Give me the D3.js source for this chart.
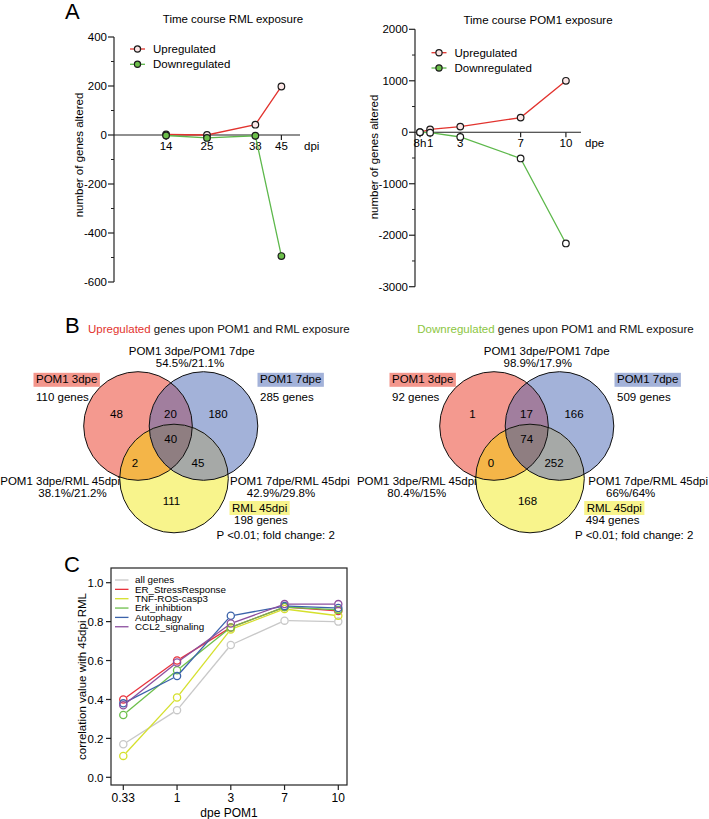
<!DOCTYPE html>
<html><head><meta charset="utf-8">
<script src="https://cdn.jsdelivr.net/npm/d3@7"></script>
<style>
html,body{margin:0;padding:0;background:#fff;}
svg{display:block;font-family:"Liberation Sans",Arial,Helvetica,sans-serif;}
</style></head>
<body>
<svg id="fig" width="709" height="819"></svg>
<script>
// ---------- DATA ----------
const rmlDays = [14, 25, 38, 45];
const rmlUp = [2, 0, 42, 198];
const rmlDown = [-2, -12, -3, -494];

const pomDays = [0.33, 1, 3, 7, 10];
const pomDayLabels = ["8h", "1", "3", "7", "10"];
const pomUp = [0, 55, 110, 285, 1000];
const pomDown = [0, -8, -92, -509, -2160];

const legendNames = ["Upregulated", "Downregulated"];

const vennSets = ["POM1 3dpe", "POM1 7dpe", "RML 45dpi"];
const pairNames = ["POM1 3dpe/POM1 7dpe", "POM1 3dpe/RML 45dpi", "POM1 7dpe/RML 45dpi"];
// region order: A only, AB, B only, ABC, AC, BC, C only
const upTotals = [110, 285, 198];
const upRegions = [48, 20, 180, 40, 2, 45, 111];
const upPairPct = ["54.5%/21.1%", "38.1%/21.2%", "42.9%/29.8%"];
const downTotals = [92, 509, 494];
const downRegions = [1, 17, 166, 74, 0, 252, 168];
const downPairPct = ["98.9%/17.9%", "80.4%/15%", "66%/64%"];

const corrX = ["0.33", "1", "3", "7", "10"];
const corrNames = ["all genes", "ER_StressResponse", "TNF-ROS-casp3", "Erk_inhibtion", "Autophagy", "CCL2_signaling"];
const corrAll   = [0.17, 0.345, 0.68, 0.805, 0.80];
const corrER    = [0.40, 0.60, 0.77, 0.875, 0.855];
const corrTNF   = [0.11, 0.41, 0.76, 0.865, 0.83];
const corrErk   = [0.32, 0.55, 0.77, 0.875, 0.86];
const corrAuto  = [0.38, 0.52, 0.83, 0.88, 0.87];
const corrCCL2  = [0.37, 0.59, 0.79, 0.89, 0.89];
const corrTicks = [0, 0.2, 0.4, 0.6, 0.8, 1.0];

// ---------- DRAW ----------
const svg = d3.select("#fig");
const FS = 11.5;

function panelLetter(t, x, y) {
  svg.append("text").attr("x", x).attr("y", y).attr("font-size", 22).text(t);
}
panelLetter("A", 65, 19);
panelLetter("B", 65, 333);
panelLetter("C", 64, 572);

function timeCourse(o) {
  const g = svg.append("g");
  const x = d3.scaleLinear().domain(o.xDomain).range(o.xRange);
  const y = d3.scaleLinear().domain(o.yDomain).range(o.yRange);
  const x0 = x(0), y0 = y(0);
  g.append("line").attr("x1", x0).attr("x2", x0).attr("y1", y(o.yDomain[0])).attr("y2", y(o.yDomain[1]))
    .attr("stroke", "#222").attr("stroke-width", 1.2);
  const majors = d3.range(o.yDomain[0], o.yDomain[1] + 1e-9, o.major);
  const minors = d3.range(o.yDomain[0], o.yDomain[1] + 1e-9, o.minor).filter(v => !majors.includes(v));
  g.selectAll(null).data(minors).join("line").attr("x1", x0 - 3).attr("x2", x0).attr("y1", d => y(d)).attr("y2", d => y(d))
    .attr("stroke", "#222").attr("stroke-width", 1);
  g.selectAll(null).data(majors).join("line").attr("x1", x0 - 6).attr("x2", x0).attr("y1", d => y(d)).attr("y2", d => y(d))
    .attr("stroke", "#222").attr("stroke-width", 1.2);
  g.selectAll(null).data(majors).join("text").attr("x", x0 - 7).attr("y", d => y(d) + 4)
    .attr("text-anchor", "end").attr("font-size", FS).text(d => String(d));
  g.append("line").attr("x1", x0).attr("x2", o.xRange[1]).attr("y1", y0).attr("y2", y0)
    .attr("stroke", "#222").attr("stroke-width", 1.2);
  g.selectAll(null).data(o.days).join("line").attr("x1", d => x(d)).attr("x2", d => x(d)).attr("y1", y0).attr("y2", y0 + 5)
    .attr("stroke", "#222").attr("stroke-width", 1.2);
  g.selectAll(null).data(o.days).join("text").attr("x", d => x(d)).attr("y", y0 + 15)
    .attr("text-anchor", "middle").attr("font-size", FS).text((d, i) => o.labels[i]);
  g.append("text").attr("x", o.xRange[1] + 4).attr("y", y0 + 15).attr("font-size", FS).text(o.unit);
  g.append("text").attr("x", o.titleX).attr("y", o.titleY).attr("text-anchor", "middle").attr("font-size", FS).text(o.title);
  g.append("text").attr("transform", `translate(${o.ylabX},${o.ylabY}) rotate(-90)`).attr("text-anchor", "middle")
    .attr("font-size", FS).text("number of genes altered");
  const line = d3.line().x((d, i) => x(o.days[i])).y(d => y(d));
  g.append("path").attr("d", line(o.up)).attr("fill", "none").attr("stroke", "#e2332e").attr("stroke-width", 1.3);
  g.append("path").attr("d", line(o.down)).attr("fill", "none").attr("stroke", "#5db84b").attr("stroke-width", 1.3);
  g.selectAll(null).data(o.up).join("circle").attr("cx", (d, i) => x(o.days[i])).attr("cy", d => y(d)).attr("r", 3.3)
    .attr("fill", "#fbe6e6").attr("stroke", "#1a1a1a").attr("stroke-width", 1.2);
  g.selectAll(null).data(o.down).join("circle").attr("cx", (d, i) => x(o.days[i])).attr("cy", d => y(d)).attr("r", 3.3)
    .attr("fill", o.downFill).attr("stroke", "#1a1a1a").attr("stroke-width", 1.2);
  const cols = ["#e2332e", "#5db84b"];
  const fills = ["#fbe6e6", "#6cbf4a"];
  legendNames.forEach((n, i) => {
    const ly = o.legY + i * 15.3;
    g.append("line").attr("x1", o.legX).attr("x2", o.legX + 15).attr("y1", ly).attr("y2", ly).attr("stroke", cols[i]).attr("stroke-width", 1.3);
    g.append("circle").attr("cx", o.legX + 7.5).attr("cy", ly).attr("r", 3.1).attr("fill", fills[i]).attr("stroke", "#1a1a1a").attr("stroke-width", 1.2);
    g.append("text").attr("x", o.legX + 23).attr("y", ly + 4).attr("font-size", FS).text(n);
  });
}

timeCourse({
  xDomain: [0, 50], xRange: [114, 300], yDomain: [-600, 400], yRange: [282, 37], major: 200, minor: 100,
  days: rmlDays, labels: rmlDays.map(String), up: rmlUp, down: rmlDown, unit: "dpi",
  title: "Time course RML exposure", titleX: 233, titleY: 23, ylabX: 83, ylabY: 155,
  legX: 130, legY: 49, downFill: "#6cbf4a"
});
timeCourse({
  xDomain: [0, 11], xRange: [415, 581], yDomain: [-3000, 2000], yRange: [286.7, 29.3], major: 1000, minor: 500,
  days: pomDays, labels: pomDayLabels, up: pomUp, down: pomDown, unit: "dpe",
  title: "Time course POM1 exposure", titleX: 538, titleY: 23.5, ylabX: 377.5, ylabY: 157,
  legX: 431.5, legY: 52.7, downFill: "#ffffff"
});

// ---------- VENN ----------
const vennCols = { A: "#f4998f", B: "#a3b2d9", C: "#f8f48c", AB: "#a17e9e", AC: "#f4b548", BC: "#a6a9a7", ABC: "#8f7e81" };
let clipId = 0;
function venn(dx, totals, regions, pct, titleWord, titleColor, lay) {
  const g = svg.append("g").attr("transform", `translate(${dx},0)`);
  const r = 54.3;
  const cs = [[138, 426], [203.5, 426], [174, 478.5]];
  const ids = cs.map(c => {
    const id = "vc" + (clipId++);
    g.append("clipPath").attr("id", id).append("circle").attr("cx", c[0]).attr("cy", c[1]).attr("r", r);
    return id;
  });
  const base = [vennCols.A, vennCols.B, vennCols.C];
  cs.forEach((c, i) => g.append("circle").attr("cx", c[0]).attr("cy", c[1]).attr("r", r).attr("fill", base[i]));
  const pair = (i, j, col) => g.append("g").attr("clip-path", `url(#${ids[i]})`)
    .append("circle").attr("cx", cs[j][0]).attr("cy", cs[j][1]).attr("r", r).attr("fill", col);
  pair(0, 1, vennCols.AB); pair(0, 2, vennCols.AC); pair(1, 2, vennCols.BC);
  g.append("g").attr("clip-path", `url(#${ids[0]})`).append("g").attr("clip-path", `url(#${ids[1]})`)
    .append("circle").attr("cx", cs[2][0]).attr("cy", cs[2][1]).attr("r", r).attr("fill", vennCols.ABC);
  cs.forEach(c => g.append("circle").attr("cx", c[0]).attr("cy", c[1]).attr("r", r).attr("fill", "none").attr("stroke", "#111").attr("stroke-width", 1));
  const rp = [[116.5, 414], [170.5, 414], [218, 414], [170.7, 439], [135, 463.3], [198, 463.3], [171.5, 500.7]];
  regions.forEach((v, i) => g.append("text").attr("x", rp[i][0]).attr("y", rp[i][1] + 4).attr("text-anchor", "middle").attr("font-size", FS).text(v));
  const t = g.append("text").attr("x", lay.titleX).attr("y", 333).attr("font-size", FS);
  t.append("tspan").attr("fill", titleColor).text(titleWord);
  t.append("tspan").attr("fill", "#111").text(" genes upon POM1 and RML exposure");
  const boxCols = ["#f3968c", "#a3b2d9", "#f8f48c"];
  lay.sets.forEach((s, i) => {
    const tx = g.append("text").attr("x", s[0]).attr("y", s[1]).attr("font-size", FS).text(vennSets[i]);
    const bb = tx.node().getBBox();
    g.insert("rect", "text").attr("x", bb.x - 2.5).attr("y", s[1] - 10.5).attr("width", bb.width + 5).attr("height", 14).attr("fill", boxCols[i]);
    g.append("text").attr("x", s[0] + s[2]).attr("y", s[1] + s[3]).attr("font-size", FS).text(totals[i] + " genes");
  });
  lay.pairs.forEach((p, i) => {
    g.append("text").attr("x", p[0]).attr("y", p[1]).attr("text-anchor", p[2]).attr("font-size", FS).text(pairNames[i]);
    g.append("text").attr("x", p[3]).attr("y", p[1] + 12).attr("text-anchor", "middle").attr("font-size", FS).text(pct[i]);
  });
  g.append("text").attr("x", lay.pX).attr("y", 539).attr("font-size", FS).text("P <0.01; fold change: 2");
}
venn(0, upTotals, upRegions, upPairPct, "Upregulated", "#e2332e", {
  titleX: 88,
  sets: [[36, 383.3, 0, 17.7], [260, 383.3, 0, 17.7], [232, 511.5, 2, 12]],
  pairs: [[191.7, 355, "middle", 190], [120, 484.5, "end", 72.5], [230, 484.5, "start", 281]],
  pX: 216.5
});
venn(356, downTotals, downRegions, downPairPct, "Downregulated", "#8cc63f", {
  titleX: 61.3,
  sets: [[36, 383.3, 0, 17.7], [261, 383.3, 0, 17.7], [230.7, 511.5, -1, 12]],
  pairs: [[190.7, 355, "middle", 181.7], [120.7, 484.5, "end", 60.7], [232.3, 484.5, "start", 274.7]],
  pX: 219
});

// ---------- PANEL C ----------
(function () {
  const g = svg.append("g");
  const L = 111, R = 347, T = 568, B = 785;
  const x = d3.scalePoint().domain(corrX).range([123.3, 338.3]);
  const y = d3.scaleLinear().domain([0, 1]).range([777.3, 582.7]);
  g.append("rect").attr("x", L).attr("y", T).attr("width", R - L).attr("height", B - T).attr("fill", "none").attr("stroke", "#222").attr("stroke-width", 1.2);
  g.selectAll(null).data(corrTicks).join("line").attr("x1", L - 5).attr("x2", L).attr("y1", d => y(d)).attr("y2", d => y(d)).attr("stroke", "#222").attr("stroke-width", 1.2);
  g.selectAll(null).data(corrTicks).join("text").attr("x", L - 7.5).attr("y", d => y(d) + 4.2).attr("text-anchor", "end").attr("font-size", 11.5).text(d3.format(".1f"));
  g.selectAll(null).data(corrX).join("line").attr("x1", d => x(d)).attr("x2", d => x(d)).attr("y1", B).attr("y2", B + 5).attr("stroke", "#222").attr("stroke-width", 1.2);
  g.selectAll(null).data(corrX).join("text").attr("x", d => x(d)).attr("y", 801.5).attr("text-anchor", "middle").attr("font-size", 12).text(d => d);
  g.append("text").attr("x", 229).attr("y", 816.5).attr("text-anchor", "middle").attr("font-size", 12).text("dpe POM1");
  g.append("text").attr("transform", `translate(85.5,676.5) rotate(-90)`).attr("text-anchor", "middle").attr("font-size", 11.5).text("correlation value with 45dpi RML");

  const series = [corrAll, corrER, corrTNF, corrErk, corrAuto, corrCCL2];
  const cols = ["#c8c8c8", "#e8323c", "#d5e02c", "#6dbf4b", "#3b63aa", "#8c4f9f"];
  const rad = 3.6;
  series.forEach((s, k) => {
    const pts = s.map((v, i) => [x(corrX[i]), y(v)]);
    for (let i = 0; i < pts.length - 1; i++) {
      const [x1, y1] = pts[i], [x2, y2] = pts[i + 1];
      const len = Math.hypot(x2 - x1, y2 - y1);
      const ux = (x2 - x1) / len, uy = (y2 - y1) / len, gap = rad + 0.6;
      if (len > 2 * gap)
        g.append("line").attr("x1", x1 + ux * gap).attr("y1", y1 + uy * gap).attr("x2", x2 - ux * gap).attr("y2", y2 - uy * gap)
          .attr("stroke", cols[k]).attr("stroke-width", 1.3);
    }
    g.selectAll(null).data(pts).join("circle").attr("cx", d => d[0]).attr("cy", d => d[1]).attr("r", rad)
      .attr("fill", "none").attr("stroke", cols[k]).attr("stroke-width", 1.3);
  });
  corrNames.forEach((n, i) => {
    const ly = 580 + i * 9.35;
    g.append("line").attr("x1", 115).attr("x2", 128.5).attr("y1", ly).attr("y2", ly).attr("stroke", cols[i]).attr("stroke-width", 1.3);
    g.append("text").attr("x", 135).attr("y", ly + 3.4).attr("font-size", 9.8).text(n);
  });
})();
</script>
</body></html>
